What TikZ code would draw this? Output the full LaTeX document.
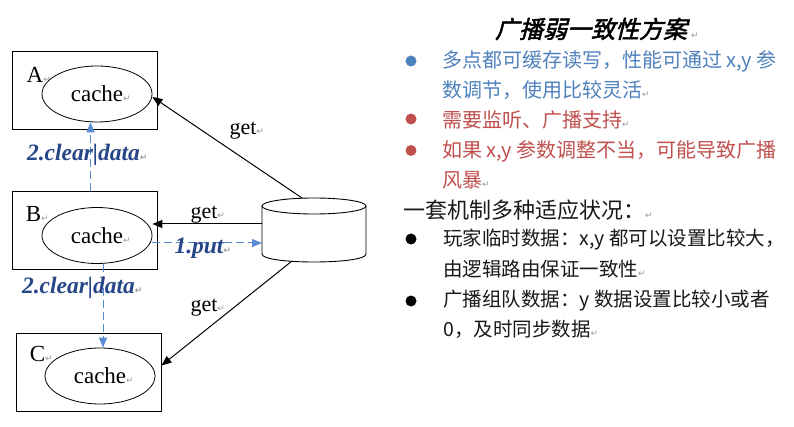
\documentclass[tikz,border=0pt]{standalone}
\usepackage{fontspec}
\setmainfont{Liberation Serif}
\newfontfamily\cjk{Noto Sans CJK SC}
\newfontfamily\cjktitle[FakeSlant=0.25,FakeBold=2]{Noto Sans CJK SC}
\newfontfamily\symf{DejaVu Sans}
\usetikzlibrary{arrows.meta,calc,shapes.geometric}
\definecolor{dashblue}{RGB}{91,140,210}
\definecolor{lblblue}{RGB}{38,70,135}
\definecolor{txtblue}{RGB}{79,129,189}
\definecolor{txtred}{RGB}{192,80,77}
\definecolor{txtblack}{RGB}{25,25,25}
\newcommand\retmk{{\symf\fontsize{9}{9}\selectfont\color{gray!80}↵}}
\begin{document}
\begin{tikzpicture}[x=1pt,y=-1pt,
  box/.style={draw, line width=0.9pt, minimum width=145pt, minimum height=78pt, inner sep=0},
  cachell/.style={draw, ellipse, line width=0.8pt, minimum width=110pt, minimum height=56pt, inner sep=0, font=\fontsize{23}{23}\selectfont},
  letterlbl/.style={font=\fontsize{23}{23}\selectfont, inner sep=0},
  getlbl/.style={font=\fontsize{22}{22}\selectfont, inner sep=0},
  steplbl/.style={font=\fontsize{23.5}{23.5}\selectfont\bfseries\itshape, text=lblblue, inner sep=0},
  getarrow/.style={line width=1pt, -{Triangle[length=10pt,width=8pt]}},
  clrarrow/.style={draw=dashblue, line width=1pt, dash pattern=on 8pt off 4pt, -{Triangle[length=10pt,width=8pt,fill=dashblue]}},
  cnline/.style={anchor=west, inner sep=0, font=\cjk\fontsize{20}{20}\selectfont},
  cnline2/.style={anchor=west, inner sep=0, font=\cjk\fontsize{19.5}{19.5}\selectfont, text=txtblack},
  bulletdot/.style={circle, inner sep=0, minimum size=11pt},
]
\fill[white] (0,0) rectangle (794,427);
\useasboundingbox (0,0) rectangle (794,427);

% boxes and caches
\node[box] (boxA) at (84.5,90) {};
\node[cachell] (ellA) at (97,94) {cache\rlap{\retmk}};
\node[letterlbl] (labA) at (35,75) {A\rlap{\retmk}};

\node[box] (boxB) at (84.5,230) {};
\node[cachell] (ellB) at (97,235.5) {cache\rlap{\retmk}};
\node[letterlbl] (labB) at (33.5,214) {B\rlap{\retmk}};

\node[box] (boxC) at (88.5,372.5) {};
\node[cachell] (ellC) at (100,376) {cache\rlap{\retmk}};
\node[letterlbl] (labC) at (37.5,354) {C\rlap{\retmk}};

% cylinder
\draw[line width=0.9pt] (314,206) ellipse [x radius=52, y radius=8];
\draw[line width=0.9pt] (262,206) -- (262,254) .. controls (262,264.67) and (366,264.67) .. (366,254) -- (366,206);
\coordinate (dbA) at (302,198);
\coordinate (dbB) at (262,224);
\coordinate (dbC) at (292,261);
\coordinate (dbP) at (262,243);

% get arrows
\draw[getarrow] (dbA) -- ([yshift=-3pt]ellA.east);
\draw[getarrow] (dbB) -- (dbB -| ellB.east);
\draw[getarrow] (dbC) -- ([yshift=7pt]boxC.east);

% dashed arrows
\draw[clrarrow] ([xshift=6pt]boxB.north) -- ([xshift=6pt]boxB.north |- ellA.south);
\draw[clrarrow] ([xshift=6pt]ellB.south) -- ([xshift=6pt]ellB.south |- ellC.north);
\draw[clrarrow] (dbP -| ellB.east) -- (dbP);

% labels
\node[getlbl] (getA) at (243,131) {get\rlap{\retmk}};
\node[getlbl] (getB) at (204,215) {get\rlap{\retmk}};
\node[getlbl] (getC) at (204,308) {get\rlap{\retmk}};
\node[steplbl] (put) at (199,248) {1.put\rlap{\retmk}};
\node[steplbl] (clr1) at (83.5,155) {2.clear|data\rlap{\retmk}};
\node[steplbl] (clr2) at (78.5,288) {2.clear|data\rlap{\retmk}};

% right text
\node[inner sep=0, font=\cjktitle\fontsize{24}{24}\selectfont] (title) at (591,29) {广播弱一致性方案\rlap{\hspace{4pt}\retmk}};

\node[bulletdot, fill=txtblue] (b1) at (411,61) {};
\node[cnline, text=txtblue] (l1) at (442,61) {多点都可缓存读写，性能可通过 x,y 参};
\node[cnline, text=txtblue] (l2) at (442,90) {数调节，使用比较灵活\retmk};
\node[bulletdot, fill=txtred] (b2) at (411,119) {};
\node[cnline, text=txtred] (l3) at (442,120) {需要监听、广播支持\retmk};
\node[bulletdot, fill=txtred] (b3) at (411,150.5) {};
\node[cnline, text=txtred] (l4) at (442,151) {如果 x,y 参数调整不当，可能导致广播};
\node[cnline, text=txtred] (l5) at (442,180) {风暴\retmk};

\node[anchor=west, inner sep=0, font=\cjk\fontsize{22}{22}\selectfont, text=txtblack] (l6) at (403,210) {一套机制多种适应状况：\retmk};
\node[bulletdot, fill=black] (b4) at (411,239) {};
\node[cnline2] (l7) at (443,240) {玩家临时数据：x,y 都可以设置比较大，};
\node[cnline2] (l8) at (443,269) {由逻辑路由保证一致性\retmk};
\node[bulletdot, fill=black] (b5) at (411,301) {};
\node[cnline2] (l9) at (443,301) {广播组队数据：y 数据设置比较小或者};
\node[cnline2] (l10) at (443,329) {0，及时同步数据\retmk};
\end{tikzpicture}
\end{document}
